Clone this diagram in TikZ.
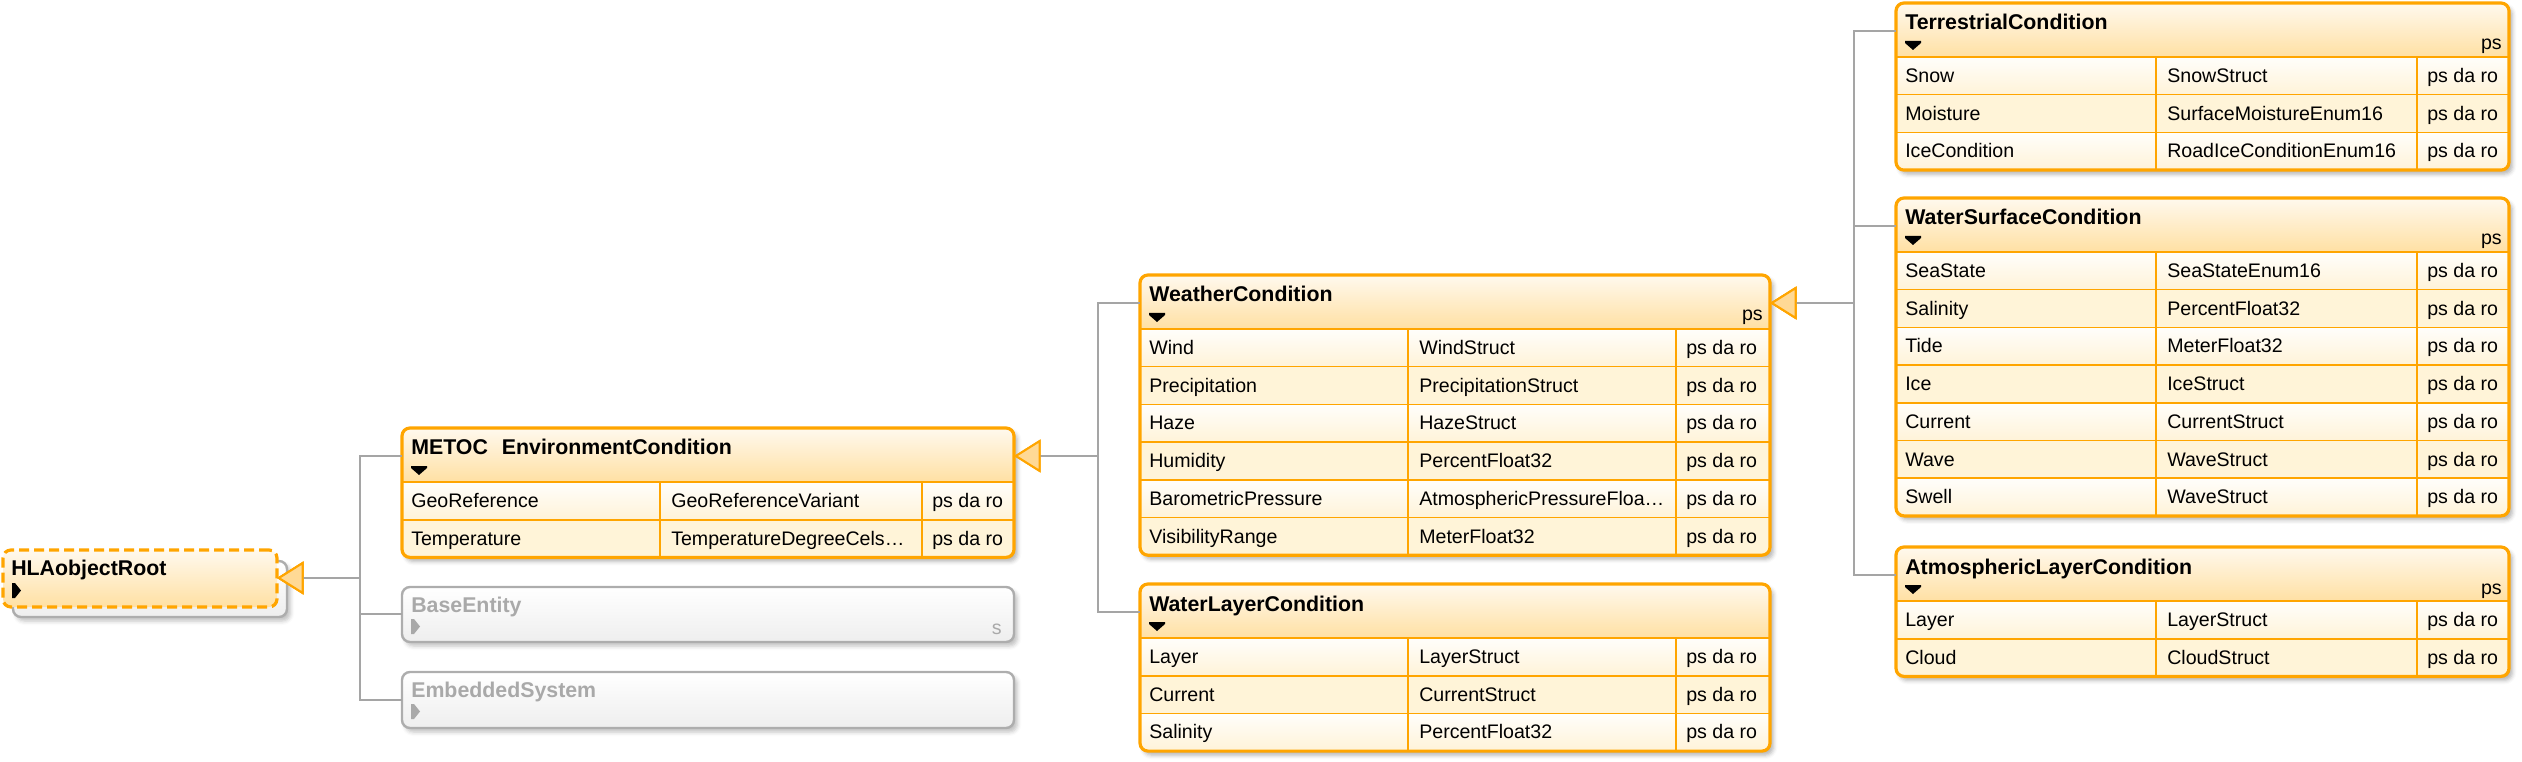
\documentclass[tikz,border=0pt]{standalone}
\usepackage{fontspec}
\setmainfont{Liberation Sans}
\usetikzlibrary{arrows.meta,shadows.blur}
\definecolor{borange}{HTML}{FFA500}
\definecolor{hdtop}{HTML}{FFF9EE}
\definecolor{hdbot}{HTML}{FFE0A3}
\definecolor{rowAtop}{HTML}{FFFEFB}
\definecolor{rowAbot}{HTML}{FFF3D8}
\definecolor{rowB}{HTML}{FFF4D8}
\definecolor{trifill}{HTML}{FFD995}
\definecolor{conngray}{HTML}{A5A5A5}
\definecolor{graybd}{HTML}{ADADAD}
\definecolor{grayfill}{HTML}{EEEEEE}
\definecolor{graytext}{HTML}{A9A9A9}
\newcommand\bodyfont{\fontsize{14.7pt}{16pt}\selectfont}
\newcommand\titlefont{\fontsize{16pt}{18pt}\selectfont\bfseries}
\tikzset{
  classnode/.style={anchor=north west, inner sep=0pt, outer sep=0pt, rectangle, rounded corners=6pt, fill=white,
    blur shadow={shadow xshift=2.5pt, shadow yshift=-3pt, shadow blur radius=3pt, shadow opacity=30}},
  classborder/.style={draw=borange, line width=2.4pt, rounded corners=6pt},
  gridline/.style={draw=borange, line width=1.2pt},
  titletext/.style={font=\titlefont, inner sep=0pt, anchor=base west},
  rowtext/.style={font=\bodyfont, inner sep=0pt, anchor=base west},
  conn/.style={draw=conngray, line width=1.5pt},
  gen/.style={-{Triangle[length=20pt,width=24.75pt,fill=trifill,color=borange]}},
  graynode/.style={anchor=north west, inner sep=0pt, outer sep=0pt, rectangle, rounded corners=6pt, draw=graybd, line width=1.8pt,
    top color=white, bottom color=grayfill,
    blur shadow={shadow xshift=2.5pt, shadow yshift=-3pt, shadow blur radius=3pt, shadow opacity=25}},
  hlanode/.style={anchor=north west, inner sep=0pt, outer sep=0pt, rectangle, rounded corners=6pt, draw=borange, line width=2.4pt,
    dash pattern=on 7.5pt off 3.75pt, top color=hdtop, bottom color=hdbot},
}
% #1 name #2 left #3 top #4 right #5 col1 #6 col2 #7 nrows #8 title #9 rows
\newcommand\umlclass[9]{%
  \pgfmathsetmacro\hb{#3+54}%
  \pgfmathsetmacro\bt{#3+54+37.7*#7}%
  \node[classnode, minimum width={(#4-#2)*0.75pt}, minimum height={(\bt-#3)*0.75pt}] (#1) at (#2,#3) {};
  \begin{scope}
    \clip[rounded corners=6pt] (#2,#3) rectangle (#4,\bt);
    \shade[top color=hdtop, bottom color=hdbot] (#2,#3) rectangle (#4,\hb);
    \foreach \a/\b [count=\i] in {#9}{%
      \pgfmathsetmacro\ry{\hb+37.7*(\i-1)}%
      \ifodd\i\relax
        \shade[top color=rowAtop, bottom color=rowAbot] (#2,\ry) rectangle (#4,\ry+37.7);
      \else
        \fill[rowB] (#2,\ry) rectangle (#4,\ry+37.7);
      \fi
    }%
  \end{scope}
  \foreach \a/\b [count=\i] in {#9}{%
    \pgfmathsetmacro\ry{\hb+37.7*(\i-1)}%
    \draw[gridline] (#2,\ry) -- (#4,\ry);
    \node[rowtext] (#1-a\i) at (#2+9,\ry+25.5) {\a};
    \node[rowtext] (#1-b\i) at (#5+11,\ry+25.5) {\b};
    \node[rowtext] (#1-c\i) at (#6+10,\ry+25.5) {ps da ro};
  }%
  \draw[gridline] (#5,\hb) -- (#5,\bt) (#6,\hb) -- (#6,\bt);
  \draw[classborder] (#1.north west) rectangle (#1.south east);
  \node[titletext] (#1-title) at (#2+9,#3+27) {#8};
  \fill (#2+9,#3+38) -- ++(16,0) -- ++(0,2) -- ++(-8,7) -- ++(-8,-7) -- cycle;
}
\begin{document}
\begin{tikzpicture}[x=0.75pt,y=-0.75pt]
\useasboundingbox (0,0) rectangle (2522,762);

% HLAobjectRoot
\node[graynode, minimum width={274*0.75pt}, minimum height={56*0.75pt}] (hla-back) at (13,561) {};
\node[hlanode, minimum width={274*0.75pt}, minimum height={57*0.75pt}] (hla) at (3,550) {};
\node[titletext] (hla-title) at (11,575) {HLAobjectRoot};
\fill (12,583) -- ++(3,0) -- ++(6,7.5) -- ++(-6,7.5) -- ++(-3,0) -- cycle;

% METOC
\umlclass{metoc}{402}{428}{1014}{660}{922}{2}{METOC\hspace{10.5pt}EnvironmentCondition}{GeoReference/GeoReferenceVariant, Temperature/TemperatureDegreeCels…}

% gray boxes
\node[graynode, minimum width={612*0.75pt}, minimum height={55*0.75pt}] (base) at (402,587) {};
\node[titletext, text=graytext] (base-title) at (411,612) {BaseEntity};
\fill[graytext] (411,619) -- ++(3,0) -- ++(6,7.5) -- ++(-6,7.5) -- ++(-3,0) -- cycle;
\node[rowtext, anchor=base east, text=graytext] (base-s) at (1002,634) {s};

\node[graynode, minimum width={612*0.75pt}, minimum height={56*0.75pt}] (embedded) at (402,672) {};
\node[titletext, text=graytext] (embedded-title) at (411,697) {EmbeddedSystem};
\fill[graytext] (411,704) -- ++(3,0) -- ++(6,7.5) -- ++(-6,7.5) -- ++(-3,0) -- cycle;

% second level
\umlclass{weather}{1140}{275}{1770}{1408}{1676}{6}{WeatherCondition}{Wind/WindStruct, Precipitation/PrecipitationStruct, Haze/HazeStruct, Humidity/PercentFloat32, BarometricPressure/AtmosphericPressureFloa…, VisibilityRange/MeterFloat32}
\node[rowtext, anchor=base east] (weather-ps) at (1763,321) {ps};

\umlclass{waterlayer}{1140}{584}{1770}{1408}{1676}{3}{WaterLayerCondition}{Layer/LayerStruct, Current/CurrentStruct, Salinity/PercentFloat32}

% third level
\umlclass{terrestrial}{1896}{3}{2509}{2156}{2417}{3}{TerrestrialCondition}{Snow/SnowStruct, Moisture/SurfaceMoistureEnum16, IceCondition/RoadIceConditionEnum16}
\node[rowtext, anchor=base east] (terrestrial-ps) at (2502,50) {ps};

\umlclass{watersurface}{1896}{198}{2509}{2156}{2417}{7}{WaterSurfaceCondition}{SeaState/SeaStateEnum16, Salinity/PercentFloat32, Tide/MeterFloat32, Ice/IceStruct, Current/CurrentStruct, Wave/WaveStruct, Swell/WaveStruct}
\node[rowtext, anchor=base east] (watersurface-ps) at (2502,245) {ps};

\umlclass{atmos}{1896}{547}{2509}{2156}{2417}{2}{AtmosphericLayerCondition}{Layer/LayerStruct, Cloud/CloudStruct}
\node[rowtext, anchor=base east] (atmos-ps) at (2502,594) {ps};

% connectors
\draw[conn,gen] ([yshift=-21pt]metoc.north west) -- ++(-31.5pt,0) |- ([yshift=-21pt]hla.north east);
\draw[conn,gen] ([yshift=-20pt]base.north west) -- ++(-31.5pt,0) |- ([yshift=-21pt]hla.north east);
\draw[conn,gen] ([yshift=-21pt]embedded.north west) -- ++(-31.5pt,0) |- ([yshift=-21pt]hla.north east);

\draw[conn,gen] ([yshift=-21pt]weather.north west) -- ++(-31.5pt,0) |- ([yshift=-21pt]metoc.north east);
\draw[conn,gen] ([yshift=-21pt]waterlayer.north west) -- ++(-31.5pt,0) |- ([yshift=-21pt]metoc.north east);

\draw[conn,gen] ([yshift=-21pt]terrestrial.north west) -- ++(-31.5pt,0) |- ([yshift=-21pt]weather.north east);
\draw[conn,gen] ([yshift=-21pt]watersurface.north west) -- ++(-31.5pt,0) |- ([yshift=-21pt]weather.north east);
\draw[conn,gen] ([yshift=-21pt]atmos.north west) -- ++(-31.5pt,0) |- ([yshift=-21pt]weather.north east);
\end{tikzpicture}
\end{document}
